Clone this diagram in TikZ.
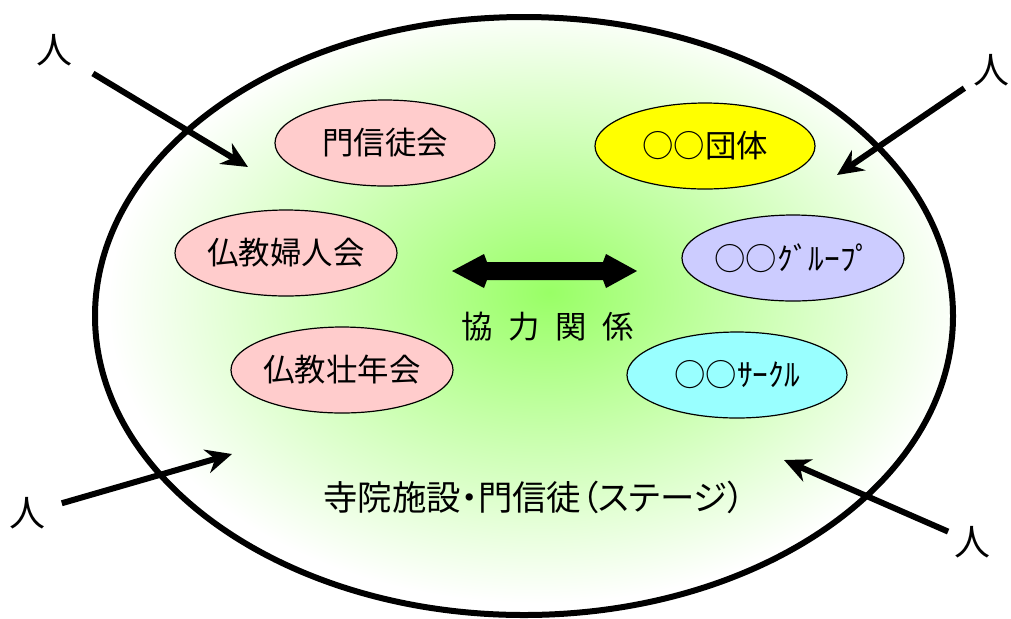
\documentclass[tikz,border=0pt]{standalone}
\usepackage{fontspec}
\setmainfont{Noto Sans CJK JP}
\usetikzlibrary{arrows.meta,shapes.geometric}
\definecolor{rose}{RGB}{255,204,204}
\definecolor{jaune}{RGB}{255,255,0}
\definecolor{mauve}{RGB}{204,204,255}
\definecolor{cyanclair}{RGB}{153,255,255}
\definecolor{vertscene}{RGB}{153,255,102}
\pgfdeclareradialshading{scene}{\pgfpoint{1.5bp}{2bp}}{color(0bp)=(vertscene); color(25bp)=(white); color(50bp)=(white)}

\begin{document}
\begin{tikzpicture}[x=0.5pt,y=-0.5pt,
  groupe/.style={ellipse,draw,line width=0.6pt,minimum width=110pt,minimum height=43pt,inner sep=0pt,font=\fontsize{15.7pt}{18pt}\selectfont},
  hito/.style={inner sep=0pt,font=\fontsize{18pt}{20pt}\selectfont},
  fleche/.style={line width=3pt,-{Stealth[length=13pt,width=12pt]}}]

\useasboundingbox (0,0) rectangle (1011,618);

%scene
\draw[line width=3pt,shade,shading=scene] (524,316) ellipse [x radius=429,y radius=299];
\node[font=\fontsize{17.2pt}{19pt}\selectfont\addfontfeature{RawFeature=+palt}] (scene) at (534,497)
  {寺院施設・門信徒（ステージ）};

%groupes de gauche
\node[groupe,fill=rose] (monto) at (385,143) {門信徒会};
\node[groupe,fill=rose] (fujin) at (286,253) {仏教婦人会};
\node[groupe,fill=rose] (sonen) at (342,370) {仏教壮年会};

%groupes de droite
\node[groupe,fill=jaune] (dantai) at (705,146) {○○団体};
\node[groupe,fill=mauve] (group) at (793,258) {○○ｸﾞﾙｰﾌﾟ};
\node[groupe,fill=cyanclair] (circle) at (737,375) {○○ｻｰｸﾙ};

%cooperation
\fill (452,271) -- (484,254) -- (487,262) -- (603,262) -- (606,254) -- (637,271)
  -- (606,288) -- (603,280) -- (487,280) -- (484,288) -- cycle;
\node[font=\fontsize{15.7pt}{18pt}\selectfont] (kyoryoku) at (548,327)
  {協\hspace{0.5em}力\hspace{0.5em}関\hspace{0.5em}係};

%personnes
\node[hito] (h1) at (54,50) {人};
\node[hito] (h2) at (991,70) {人};
\node[hito] (h3) at (28,513) {人};
\node[hito] (h4) at (972,542) {人};
\coordinate (t1) at (248,167);
\coordinate (t2) at (837,175);
\coordinate (t3) at (232,454);
\coordinate (t4) at (784,460);
\draw[fleche,shorten <=12pt] (h1) -- (t1);
\draw[fleche,shorten <=5pt] (h2) -- (t2);
\draw[fleche,shorten <=8pt] (h3) -- (t3);
\draw[fleche,shorten <=3pt] (h4) -- (t4);

\end{tikzpicture}
\end{document}
